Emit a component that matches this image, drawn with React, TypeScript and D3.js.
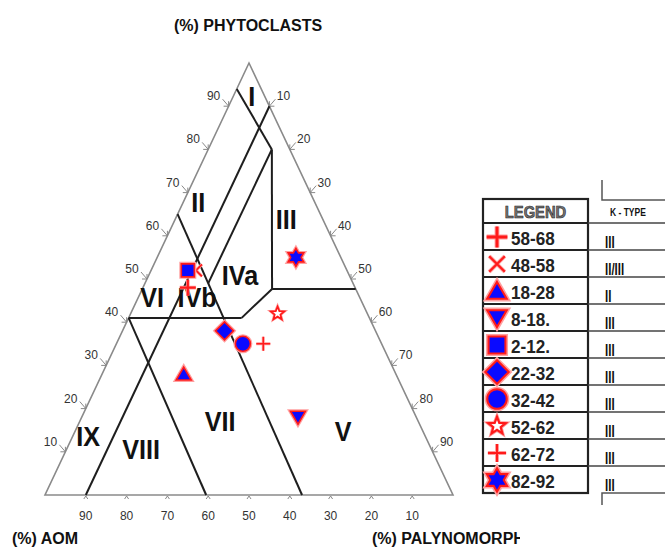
import React, { useRef, useEffect } from 'react';
import * as d3 from 'd3';

// sample depth intervals, in legend order
const samples = ['58-68', '48-58', '18-28', '8-18.', '2-12.', '22-32', '32-42', '52-62', '62-72', '82-92'];
const kTypes = ['III', 'II/III', 'II', 'III', 'III', 'III', 'III', 'III', 'III', 'III'];
const markerKinds = ['plusBold', 'cross', 'triUp', 'triDown', 'square', 'diamond', 'circle', 'starOpen', 'plus', 'hexagram'];
// composition (%)
const phytoclasts = [48, 52, 28, 18, 52, 38, 35, 42, 35, 55];
const aom = [41, 37, 52, 29, 39, 37, 34, 22, 29, 11];
const palynomorphs = [11, 11, 20, 53, 9, 25, 31, 36, 36, 34];

const tickValues = [10, 20, 30, 40, 50, 60, 70, 80, 90];

// field boundaries as [phyto, palyno] pairs
const boundaries = [
    [[94, 0], [80, 15.6]],
    [[90, 10], [0, 10]],
    [[80, 15.6], [47.7, 31.8]],
    [[47.7, 31.8], [47.7, 52.3]],
    [[47.7, 31.8], [41, 27.7]],
    [[41, 27.7], [41, 0]],
    [[80, 15.6], [49, 15.5]],
    [[65, 0], [0, 63]],
    [[41, 0], [0, 39.5]],
];

const fieldNames = ['I', 'II', 'III', 'IVa', 'IVb', 'V', 'VI', 'VII', 'VIII', 'IX'];
const fieldAnchors = [[90, 5.7], [65.5, 4.8], [61.6, 28.3], [48.6, 23.5], [43.5, 15.5], [12.5, 66.8], [43.5, 4.5], [14.8, 35.5], [8.3, 19.4], [11.3, 4.9]];

const FONT = '"Liberation Sans", Arial, sans-serif';
const BLUE = '#0a0aff';
const RED = '#ff1a1a';

const starPath = (n, ro, ri) => {
    const pts = d3.range(n * 2).map(i => {
        const r = i % 2 ? ri : ro;
        const a = -Math.PI / 2 + i * Math.PI / n;
        return [r * Math.cos(a), r * Math.sin(a)];
    });
    return 'M' + pts.map(p => p[0].toFixed(2) + ',' + p[1].toFixed(2)).join('L') + 'Z';
};

const markerShape = kind => {
    switch (kind) {
        case 'plusBold': return { d: 'M-8,0H8M0,-8V8', open: true, sw: 2.2 };
        case 'plus': return { d: 'M-7,0H7M0,-7V7', open: true, sw: 1.5 };
        case 'cross': return { d: 'M-6,-6L6,6M6,-6L-6,6', open: true, sw: 1.5 };
        case 'triUp': return { d: 'M0,-7L7.5,6L-7.5,6Z' };
        case 'triDown': return { d: 'M0,7L7.5,-6L-7.5,-6Z' };
        case 'square': return { d: 'M-6.5,-6.5H6.5V6.5H-6.5Z' };
        case 'diamond': return { d: 'M0,-9L9,0L0,9L-9,0Z' };
        case 'circle': return { d: d3.symbol(d3.symbolCircle, Math.PI * 7.5 * 7.5)() };
        case 'starOpen': return { d: starPath(5, 7, 3), star: true };
        default: return { d: starPath(6, 9, 5.2) };
    }
};

const drawMarker = (g, kind, x, y, k) => {
    const m = markerShape(kind);
    const mg = g.append('g').attr('transform', `translate(${x},${y}) scale(${k})`);
    if (m.open) {
        mg.append('path').attr('d', m.d).attr('fill', 'none').attr('stroke', '#ff9a9a').attr('stroke-width', m.sw + 1.5);
        mg.append('path').attr('d', m.d).attr('fill', 'none').attr('stroke', RED).attr('stroke-width', m.sw);
    } else if (m.star) {
        mg.append('path').attr('d', m.d).attr('fill', '#fff').attr('stroke', '#ff9a9a').attr('stroke-width', 3);
        mg.append('path').attr('d', m.d).attr('fill', '#fff').attr('stroke', RED).attr('stroke-width', 1.7);
    } else {
        mg.append('path').attr('d', m.d).attr('fill', BLUE).attr('stroke', '#ffa0a0').attr('stroke-width', 4);
        mg.append('path').attr('d', m.d).attr('fill', BLUE).attr('stroke', RED).attr('stroke-width', 1.6);
    }
};

const App = () => {
    const svgRef = useRef(null);

    useEffect(() => {
        const svg = d3.select(svgRef.current);
        svg.selectAll('*').remove();

        // ternary -> pixel
        const y = d3.scaleLinear().domain([0, 100]).range([495, 63]);
        const x = d3.scaleLinear().domain([0, 100]).range([45, 453]);
        const proj = (p, l) => [x(l + p / 2), y(p)];
        const line = d3.line();

        // Triangle frame
        svg.append('path')
            .attr('d', line([proj(100, 0), proj(0, 0), proj(0, 100)]) + 'Z')
            .attr('fill', 'none').attr('stroke', '#8a8a8a').attr('stroke-width', 1.6);

        // Ticks and tick labels
        const ticks = svg.append('g').attr('font-family', FONT).attr('font-size', 12).attr('fill', '#333');
        tickValues.forEach(v => {
            // left edge: phytoclasts
            const [lx, ly] = proj(v, 0);
            ticks.append('path').attr('d', `M${lx - 6},${ly - 7}L${lx},${ly}M${lx - 5},${ly}L${lx},${ly}L${lx},${ly - 5}`)
                .attr('fill', 'none').attr('stroke', '#888').attr('stroke-width', 1);
            ticks.append('text').attr('x', lx - 15).attr('y', ly - 6).attr('text-anchor', 'middle').text(v);
            // right edge: palynomorphs
            const [rx, ry] = proj(100 - v, v);
            ticks.append('path').attr('d', `M${rx + 6},${ry - 7}L${rx},${ry}M${rx + 5},${ry}L${rx},${ry}L${rx},${ry - 5}`)
                .attr('fill', 'none').attr('stroke', '#888').attr('stroke-width', 1);
            ticks.append('text').attr('x', rx + 14).attr('y', ry - 6).attr('text-anchor', 'middle').text(v);
            // bottom: AOM
            const [bx, by] = proj(0, 100 - v);
            ticks.append('path').attr('d', `M${bx - 2},${by + 4}L${bx},${by + 1}L${bx + 2},${by + 4}`)
                .attr('fill', 'none').attr('stroke', '#888').attr('stroke-width', 1);
            ticks.append('text').attr('x', bx).attr('y', by + 25).attr('text-anchor', 'middle').text(v);
        });

        // Field boundaries
        svg.append('g').selectAll('path')
            .data(boundaries)
            .enter()
            .append('path')
                .attr('d', b => line(b.map(pt => proj(pt[0], pt[1]))))
                .attr('fill', 'none')
                .attr('stroke', '#1e1e1e')
                .attr('stroke-width', 2);

        // Field labels
        fieldNames.forEach((name, i) => {
            const [fx, fy] = proj(fieldAnchors[i][0], fieldAnchors[i][1]);
            svg.append('text')
                .attr('transform', `translate(${fx},${fy}) scale(0.9,1)`)
                .attr('text-anchor', 'middle')
                .attr('font-family', FONT).attr('font-weight', 'bold').attr('font-size', 28)
                .attr('fill', '#111')
                .text(name);
        });

        // Samples
        const pts = svg.append('g');
        samples.forEach((s, i) => {
            const [px, py] = proj(phytoclasts[i], palynomorphs[i]);
            drawMarker(pts, markerKinds[i], px, py, 1);
        });

        // Axis titles
        const titles = svg.append('g').attr('font-family', FONT).attr('font-weight', 'bold').attr('font-size', 16).attr('fill', '#111');
        titles.append('text').attr('x', 248).attr('y', 31).attr('text-anchor', 'middle').text('(%) PHYTOCLASTS');
        titles.append('text').attr('x', 12).attr('y', 544).text('(%) AOM');
        svg.append('clipPath').attr('id', 'palyClip').append('rect').attr('x', 360).attr('y', 520).attr('width', 160).attr('height', 30);
        titles.append('text').attr('x', 372).attr('y', 544).attr('clip-path', 'url(#palyClip)').text('(%) PALYNOMORPH');

        // Legend table
        const lg = svg.append('g');
        const left = 483, mid = 588, right = 665, top = 199, headH = 24, rowH = 27;
        const bottom = top + headH + rowH * samples.length;
        const rowTops = samples.map((s, i) => top + headH + rowH * i);

        lg.append('path').attr('d', `M602,180V200H${right}M602,${bottom + 12}V${bottom}H${right}`)
            .attr('fill', 'none').attr('stroke', '#555').attr('stroke-width', 1.5);
        lg.append('rect').attr('x', left).attr('y', top).attr('width', mid - left).attr('height', bottom - top)
            .attr('fill', 'none').attr('stroke', '#222').attr('stroke-width', 2.2);
        [top + headH, ...rowTops.slice(1)].forEach(ry => {
            lg.append('line').attr('x1', left).attr('x2', mid).attr('y1', ry).attr('y2', ry)
                .attr('stroke', '#222').attr('stroke-width', 2);
            lg.append('line').attr('x1', mid).attr('x2', right).attr('y1', ry).attr('y2', ry)
                .attr('stroke', '#444').attr('stroke-width', 1.5);
        });

        lg.append('text').attr('transform', `translate(${(left + mid) / 2},${top + 19}) scale(0.92,1)`).attr('text-anchor', 'middle')
            .attr('font-family', FONT).attr('font-weight', 'bold').attr('font-size', 16)
            .attr('fill', '#777').attr('stroke', '#222').attr('stroke-width', 0.6)
            .text('LEGEND');
        lg.append('text').attr('transform', `translate(610,${top + 17}) scale(0.85,1)`)
            .attr('font-family', FONT).attr('font-weight', 'bold').attr('font-size', 10).attr('fill', '#111')
            .text('K - TYPE');

        samples.forEach((s, i) => {
            const ry = rowTops[i];
            drawMarker(lg, markerKinds[i], 497, ry + 14, 1.3);
            lg.append('text').attr('transform', `translate(511,${ry + 22}) scale(0.95,1)`)
                .attr('font-family', FONT).attr('font-weight', 'bold').attr('font-size', 18).attr('fill', '#222')
                .text(s);
            lg.append('text').attr('transform', `translate(605,${ry + 25}) scale(0.72,1)`)
                .attr('font-family', FONT).attr('font-weight', 'bold').attr('font-size', 16).attr('fill', '#111')
                .text(kTypes[i]);
        });
    }, []);

    return (
        <svg ref={svgRef} width={665} height={547}
            style={{ position: 'absolute', left: 0, top: 0, background: '#fff' }} />
    );
};

export default App;
